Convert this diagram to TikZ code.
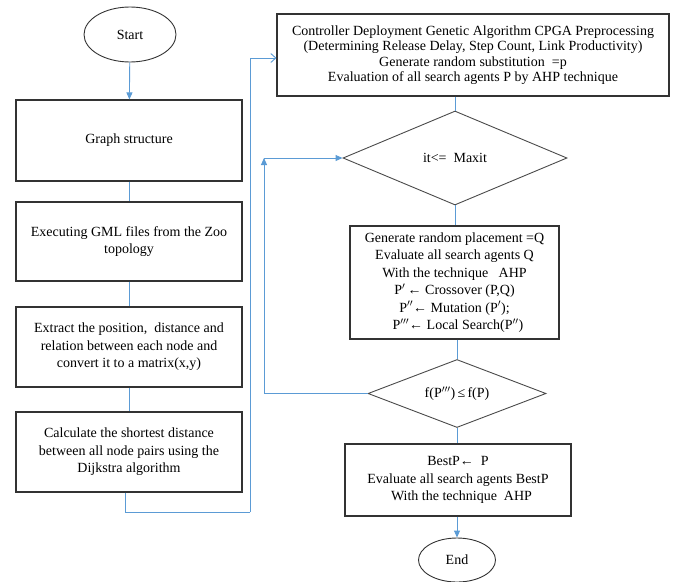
\documentclass[tikz,border=0pt]{standalone}
\usepackage{fontspec}
\setmainfont{Liberation Serif}
\usetikzlibrary{shapes.geometric,arrows.meta}
\definecolor{linec}{HTML}{5B9BD5}
\definecolor{boxc}{HTML}{333333}
\definecolor{diac}{HTML}{4A4A4A}
\begin{document}
\begin{tikzpicture}[x=1pt,y=-1pt,
  txt/.style={font=\fontsize{14}{17.5}\selectfont},
  box/.style={draw=boxc, line width=1.1pt, rectangle, inner sep=0pt, align=center, txt},
  oval/.style={draw=boxc, line width=0.9pt, ellipse, inner sep=0pt, txt},
  dia/.style={draw=diac, line width=0.9pt, diamond, inner sep=0pt, txt},
  conn/.style={draw=linec, line width=0.9pt},
  arr/.style={conn, -{Triangle[length=7pt,width=6pt]}},
  openarr/.style={conn, -{Straight Barb[length=5pt,width=9pt]}}
]
\useasboundingbox (0,0) rectangle (676,581);

\node[oval, minimum width=92pt, minimum height=55pt] (start) at (130,34.5) {Start};
\node[box, minimum width=226pt, minimum height=81pt] (graph) at (129,140.5) {Graph structure};
\node[box, minimum width=226pt, minimum height=79pt] (exec) at (129,241.5) {Executing GML files from the Zoo\\topology};
\node[box, minimum width=226pt, minimum height=80pt] (extr) at (129,347) {Extract the position,\ \ distance and\\relation\ between each node and\\convert it to a matrix(x,y)};
\node[box, minimum width=226pt, minimum height=80pt] (calc) at (129,452) {Calculate the shortest distance\\between all node pairs using the\\Dijkstra algorithm};

\node[box, minimum width=392pt, minimum height=82pt, font=\fontsize{14}{15.5}\selectfont] (top) at (473,55)
  {Controller\ Deployment\ Genetic\ Algorithm\ CPGA Preprocessing\\(Determining Release Delay, Step Count,\ Link\ Productivity)\\Generate random substitution\ \ =p\\Evaluation\ of all search agents P by AHP technique};

\node[dia, minimum width=224pt, minimum height=94pt, shape aspect=2.4] (d1) at (455,158) {it<=\ \ Maxit};

\node[box, minimum width=209pt, minimum height=113pt] (gen) at (454.5,282.5)
  {Generate random placement =Q\\Evaluate all\ search agents Q\\With the technique\ \ \ AHP\\P$^{\prime}$\,← Crossover (P,Q)\\P$^{\prime\prime}$← Mutation (P$^{\prime}$);\\\ \ P$^{\prime\prime\prime}$← Local Search(P$^{\prime\prime}$)};

\node[dia, minimum width=178pt, minimum height=68pt, shape aspect=2.6] (d2) at (457,393.5) {f(P$^{\prime\prime\prime}$)\,≤\,f(P)};

\node[box, minimum width=226pt, minimum height=72pt] (best) at (458,480)
  {BestP← \ P\\Evaluate all\ search agents BestP\\\ \ With the technique\ \ AHP};

\node[oval, minimum width=77pt, minimum height=44pt] (end) at (457,560) {End};

\coordinate (c1) at (250,512);
\coordinate (c2) at (264,158);

\draw[arr] (start) -- (graph);
\draw[conn] (graph) -- (exec);
\draw[conn] (exec) -- (extr);
\draw[conn] (extr) -- (calc);
\draw[conn] ([xshift=-4pt]calc.south) |- (c1);
\draw[openarr] (c1) |- ([yshift=-3pt]top.west);

\draw[conn] ([xshift=-18pt]top.south) -- (d1.north);
\draw[conn] (d1.south) -- (gen.north -| d1.south);
\draw[conn] (gen.south -| d2.north) -- (d2.north);
\draw[arr] (d2.west) -| (c2);
\draw[arr] (c2) -- (d1.west);
\draw[conn] (d2.south) -- (best.north -| d2.south);
\draw[arr] (best.south -| end.north) -- (end.north);
\end{tikzpicture}
\end{document}
